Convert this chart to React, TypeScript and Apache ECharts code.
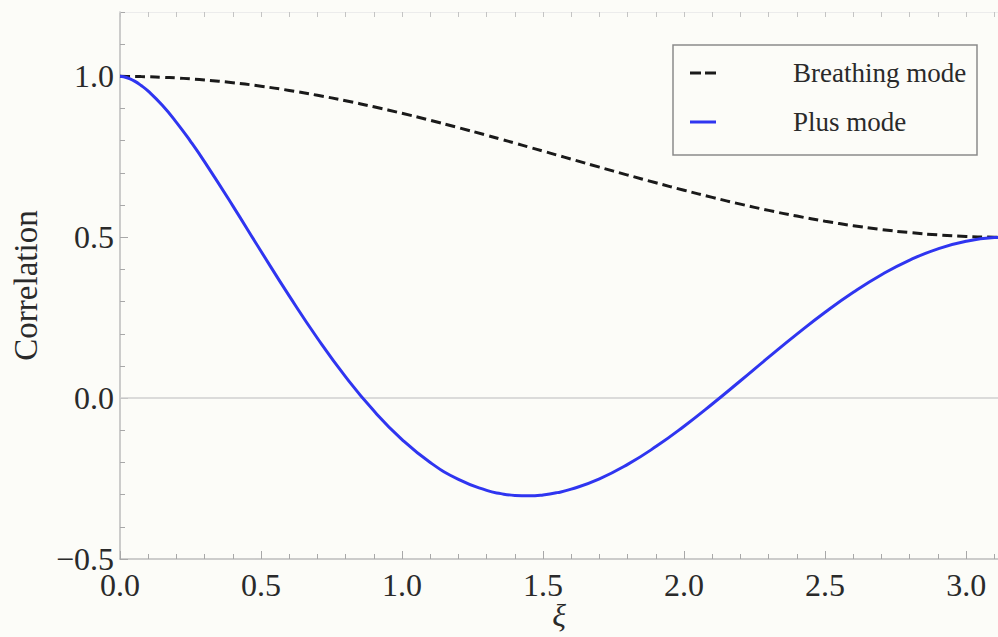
import React, { useEffect, useRef } from "react";
import * as echarts from "echarts";

// Angular separation ξ (radians)
const XI = [0, 0.025, 0.05, 0.075, 0.1, 0.15, 0.2, 0.25, 0.3, 0.4, 0.5, 0.6, 0.7, 0.8, 0.9, 1.0,
  1.1, 1.2, 1.3, 1.35, 1.4, 1.45, 1.5, 1.55, 1.6, 1.7, 1.8, 1.9, 2.0, 2.1, 2.2, 2.3, 2.4, 2.5,
  2.6, 2.7, 2.8, 2.9, 3.0, 3.1, 3.1416];

// Breathing mode correlation
const BREATHING = [1.0, 0.9999, 0.9997, 0.9993, 0.9988, 0.9972, 0.995, 0.9922, 0.9888, 0.9803,
  0.9694, 0.9563, 0.9412, 0.9242, 0.9054, 0.8851, 0.8634, 0.8406, 0.8169, 0.8048, 0.7925,
  0.7801, 0.7677, 0.7552, 0.7427, 0.7178, 0.6932, 0.6692, 0.646, 0.6238, 0.6029, 0.5834,
  0.5657, 0.5497, 0.5358, 0.524, 0.5144, 0.5073, 0.5025, 0.5002, 0.5];

// Plus mode correlation
const PLUS = [1.0, 0.9958, 0.9859, 0.9716, 0.9539, 0.9099, 0.8572, 0.798, 0.7341, 0.5975,
  0.4564, 0.3176, 0.1861, 0.0661, -0.0396, -0.1288, -0.2001, -0.2528, -0.2868, -0.2968,
  -0.3025, -0.3037, -0.3008, -0.2938, -0.283, -0.2507, -0.2059, -0.1507, -0.0873, -0.0183,
  0.054, 0.1272, 0.1988, 0.2668, 0.329, 0.3836, 0.429, 0.464, 0.4875, 0.4989, 0.5];

const SERIES_NAMES = ["Breathing mode", "Plus mode"];
const X_LABEL = "ξ";
const Y_LABEL = "Correlation";

const FONT = "'Liberation Serif', 'DejaVu Serif', serif";
const TEXT = "#2a2a2a";
const AXIS = "#bdbdbd";
const TICK = "#a8a8a8";
const BLACK = "#1a1a1a";
const BLUE = "#2f35f0";

const fmt = (v: number) => {
  const s = Math.abs(v).toFixed(1);
  return v < -1e-9 ? "\u2212" + s : s;
};

export default function App() {
  const ref = useRef<HTMLDivElement>(null);
  useEffect(() => {
    if (!ref.current) return;
    const chart = echarts.init(ref.current, null, { renderer: "svg" });
    const XMIN = 0, XMAX = 3.113, YMIN = -0.5, YMAX = 1.2;
    chart.setOption({
      animation: false,
      backgroundColor: "#fcfcf8",
      grid: {
        left: 120, right: 0, top: 12, bottom: 78,
        containLabel: false, outerBoundsMode: "none",
      },
      legend: {
        orient: "vertical",
        left: 690,
        top: 58,
        padding: 0,
        itemWidth: 26,
        itemHeight: 3,
        itemGap: 19,
        data: [
          { name: SERIES_NAMES[0], icon: "path://M0,0h11v3H0z M15,0h11v3H15z" },
          { name: SERIES_NAMES[1], icon: "path://M0,0h26v3H0z" },
        ],
        textStyle: {
          fontFamily: FONT,
          fontSize: 27,
          color: TEXT,
          lineHeight: 30,
          padding: [0, 0, 0, 72],
        },
      },
      graphic: [
        {
          type: "rect",
          shape: { x: 673, y: 45, width: 304, height: 110 },
          style: { fill: "none", stroke: "#8a8a8a", lineWidth: 1.5 },
          z: 1,
        },
      ],
      xAxis: [
        {
          type: "value", min: XMIN, max: XMAX, interval: 0.5, position: "bottom",
          axisLine: { show: true, onZero: false, lineStyle: { color: AXIS, width: 1.5 } },
          axisTick: { show: true, inside: true, length: 8, lineStyle: { color: TICK } },
          axisLabel: {
            showMaxLabel: false, formatter: fmt, fontFamily: FONT, fontSize: 32,
            lineHeight: 24, color: TEXT, margin: 14,
          },
          splitLine: { show: false },
          name: X_LABEL, nameLocation: "middle", nameGap: 42, nameMoveOverlap: false,
          nameTextStyle: {
            fontFamily: FONT, fontStyle: "italic", fontSize: 32, lineHeight: 28, color: TEXT,
          },
        },
        {
          type: "value", min: XMIN, max: XMAX, interval: 0.1, position: "bottom",
          axisLine: { show: false, onZero: false },
          axisTick: { show: true, inside: true, length: 5, lineStyle: { color: TICK } },
          axisLabel: { show: false }, splitLine: { show: false },
        },
        {
          type: "value", min: XMIN, max: XMAX, interval: 0.1, position: "top",
          axisLine: { show: true, onZero: false, lineStyle: { color: "#ececec", width: 1 } },
          axisTick: { show: true, inside: true, length: 5, lineStyle: { color: "#c4c4c4" } },
          axisLabel: { show: false }, splitLine: { show: false },
        },
      ],
      yAxis: [
        {
          type: "value", min: YMIN, max: YMAX, interval: 0.5, position: "left",
          axisLine: { show: true, onZero: false, lineStyle: { color: AXIS, width: 1.5 } },
          axisTick: { show: true, inside: true, length: 8, lineStyle: { color: TICK } },
          axisLabel: {
            showMaxLabel: false, formatter: fmt, fontFamily: FONT, fontSize: 32,
            lineHeight: 24, color: TEXT, margin: 6,
          },
          splitLine: { show: false },
          name: Y_LABEL, nameLocation: "middle", nameGap: 78,
          nameTextStyle: { fontFamily: FONT, fontSize: 33, color: TEXT },
        },
        {
          type: "value", min: YMIN, max: YMAX, interval: 0.1, position: "left",
          axisLine: { show: false, onZero: false },
          axisTick: { show: true, inside: true, length: 5, lineStyle: { color: TICK } },
          axisLabel: { show: false }, splitLine: { show: false },
        },
      ],
      series: [
        {
          name: SERIES_NAMES[0],
          type: "line",
          xAxisIndex: 0, yAxisIndex: 0,
          data: XI.map((x, i) => [x, BREATHING[i]]),
          smooth: true,
          symbol: "none",
          lineStyle: { color: BLACK, width: 3, type: [10, 5] },
          itemStyle: { color: BLACK },
          z: 3,
          markLine: {
            silent: true,
            symbol: "none",
            z: 1,
            label: { show: false },
            lineStyle: { color: "#d0d0d0", width: 1.5, type: "solid" },
            data: [{ yAxis: 0 }],
          },
        },
        {
          name: SERIES_NAMES[1],
          type: "line",
          xAxisIndex: 0, yAxisIndex: 0,
          data: XI.map((x, i) => [x, PLUS[i]]),
          smooth: true,
          symbol: "none",
          lineStyle: { color: BLUE, width: 3, type: "solid" },
          itemStyle: { color: BLUE },
          z: 4,
        },
      ],
    });
    return () => chart.dispose();
  }, []);
  return (
    <div
      ref={ref}
      style={{ position: "absolute", left: 0, top: 0, width: 998, height: 637 }}
    />
  );
}
